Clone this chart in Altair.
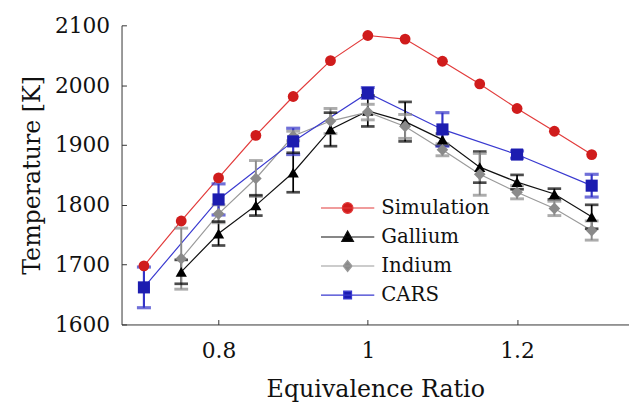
import altair as alt
import pandas as pd

# ---- data ----
phi_sim = [0.70, 0.75, 0.80, 0.85, 0.90, 0.95, 1.00, 1.05, 1.10, 1.15, 1.20, 1.25, 1.30]
t_sim = [1698, 1773, 1845, 1916, 1981, 2041, 2083, 2077, 2040, 2002, 1961, 1923, 1884]

phi_ga = [0.75, 0.80, 0.85, 0.90, 0.95, 1.00, 1.05, 1.10, 1.15, 1.20, 1.25, 1.30]
t_ga = [1688, 1752, 1799, 1854, 1926, 1957, 1939, 1909, 1863, 1838, 1818, 1780]
e_ga = [20, 20, 17, 33, 28, 26, 33, 10, 26, 12, 9, 20]

phi_in = [0.75, 0.80, 0.85, 0.90, 0.95, 1.00, 1.05, 1.10, 1.15, 1.20, 1.25, 1.30]
t_in = [1710, 1785, 1844, 1915, 1940, 1955, 1931, 1892, 1851, 1821, 1794, 1757]
e_in = [51, 15, 30, 8, 21, 13, 20, 10, 35, 11, 12, 16]

phi_cars = [0.70, 0.80, 0.90, 1.00, 1.10, 1.20, 1.30]
t_cars = [1662, 1809, 1906, 1987, 1926, 1884, 1832]
e_cars = [34, 26, 22, 9, 28, 6, 19]

x_ticks = [0.8, 1.0, 1.2]
y_ticks = [1600, 1700, 1800, 1900, 2000, 2100]

series = ["Simulation", "Gallium", "Indium", "CARS"]
line_colors = ["#e23b3b", "#111111", "#9a9a9a", "#3a3ad0"]
marker_colors = ["#d01c1c", "#000000", "#8a8a8a", "#1c1cb0"]
err_colors = ["#d01c1c", "#000000", "#8a8a8a", "#3434c8"]
err_widths = [1.5, 2.2, 2.2, 1.2]
shapes = ["circle", "triangle-up", "diamond", "square"]
shape_sizes = [120, 150, 110, 68]
legend_paths = [
    "M-3,0H3M0.6,0A0.6,0.6,0,1,1,-0.6,0A0.6,0.6,0,1,1,0.6,0Z",
    "M-3,0H3M0,-0.68L0.66,0.5L-0.66,0.5Z",
    "M-3,0H3M0,-0.62L0.5,0L0,0.62L-0.5,0Z",
    "M-3,0H3M-0.44,-0.44H0.44V0.44H-0.44Z",
]

rows = []
for name, xs, ys, es in [
    ("Simulation", phi_sim, t_sim, [None] * len(phi_sim)),
    ("Gallium", phi_ga, t_ga, e_ga),
    ("Indium", phi_in, t_in, e_in),
    ("CARS", phi_cars, t_cars, e_cars),
]:
    for x, y, e in zip(xs, ys, es):
        rows.append({
            "series": name, "phi": x, "T": y,
            "lo": None if e is None else y - e,
            "hi": None if e is None else y + e,
        })
df = pd.DataFrame(rows)
df_err = df.dropna(subset=["lo"])

FONT = "DejaVu Serif"
W, H = 514, 303

x_scale = alt.Scale(domain=[0.67, 1.35], nice=False, zero=False)
y_scale = alt.Scale(domain=[1600, 2100], nice=False, zero=False)

x_enc = alt.X("phi:Q", scale=x_scale,
              axis=alt.Axis(values=x_ticks, format="~g", title="Equivalence Ratio"))
y_enc = alt.Y("T:Q", scale=y_scale,
              axis=alt.Axis(values=y_ticks, format="d", title="Temperature [K]"))

base = alt.Chart(df)

lines = base.mark_line(strokeWidth=1.2).encode(
    x=x_enc, y=y_enc,
    color=alt.Color("series:N", scale=alt.Scale(domain=series, range=line_colors), legend=None),
    detail="series:N",
)

err_scale_stroke = alt.Scale(domain=series, range=err_colors)
err_scale_w = alt.Scale(domain=series, range=err_widths)

err_rules = alt.Chart(df_err).mark_rule().encode(
    x="phi:Q", y="lo:Q", y2="hi:Q",
    stroke=alt.Stroke("series:N", scale=err_scale_stroke, legend=None),
    strokeWidth=alt.StrokeWidth("series:N", scale=err_scale_w, legend=None),
)
err_lo = alt.Chart(df_err).mark_tick(width=12, orient="horizontal").encode(
    x="phi:Q", y="lo:Q",
    stroke=alt.Stroke("series:N", scale=err_scale_stroke, legend=None),
    strokeWidth=alt.StrokeWidth("series:N", scale=err_scale_w, legend=None),
)
err_hi = alt.Chart(df_err).mark_tick(width=12, orient="horizontal").encode(
    x="phi:Q", y="hi:Q",
    stroke=alt.Stroke("series:N", scale=err_scale_stroke, legend=None),
    strokeWidth=alt.StrokeWidth("series:N", scale=err_scale_w, legend=None),
)

points = base.mark_point(filled=True, opacity=1, strokeWidth=0).encode(
    x="phi:Q", y="T:Q",
    fill=alt.Fill("series:N", scale=alt.Scale(domain=series, range=marker_colors), legend=None),
    shape=alt.Shape("series:N", scale=alt.Scale(domain=series, range=shapes), legend=None),
    size=alt.Size("series:N", scale=alt.Scale(domain=series, range=shape_sizes), legend=None),
)

legend_layer = base.mark_point(filled=True, opacity=0).encode(
    x="phi:Q", y="T:Q",
    shape=alt.Shape("series:N", scale=alt.Scale(domain=series, range=legend_paths),
                    legend=alt.Legend(title=None, orient="none", legendX=219, legendY=175,
                                      symbolSize=324, symbolOpacity=1, symbolStrokeWidth=1.2,
                                      labelFont=FONT, labelFontSize=20, labelColor="#111111",
                                      labelOffset=24, rowPadding=9.4, padding=0)),
    fill=alt.Fill("series:N", scale=alt.Scale(domain=series, range=marker_colors)),
    stroke=alt.Stroke("series:N", scale=alt.Scale(domain=series, range=line_colors)),
)

inner = alt.layer(lines, err_rules, err_lo, err_hi, points, legend_layer).resolve_scale(
    shape="independent", fill="independent", stroke="independent", size="independent",
    strokeWidth="independent",
)

# inward-pointing ticks: a second pair of axes laid over the plot's own axes
tick_layer = base.mark_point(opacity=0).encode(
    x=alt.X("phi:Q", scale=x_scale,
            axis=alt.Axis(orient="top", offset=-H, values=x_ticks, labels=False, domain=False,
                          ticks=True, tickSize=5, tickColor="#333333", tickWidth=1, title=None)),
    y=alt.Y("T:Q", scale=y_scale,
            axis=alt.Axis(orient="right", offset=-W, values=y_ticks, labels=False, domain=False,
                          ticks=True, tickSize=5, tickColor="#333333", tickWidth=1, title=None)),
)

chart = alt.layer(inner, tick_layer).resolve_axis(x="independent", y="independent").properties(
    width=W, height=H,
    padding={"left": 13, "top": 4, "right": 0, "bottom": 0},
).configure_view(stroke=None).configure_axis(
    grid=False, domainColor="#333333", domainWidth=1, ticks=False,
    labelFont=FONT, labelFontSize=22, labelColor="#111111", labelPadding=12,
    titleFont=FONT, titleFontSize=24, titleFontWeight="normal", titleColor="#111111",
).configure_axisY(titlePadding=10).configure_axisX(titlePadding=17, labelPadding=16)

chart.save("out.html", embed_options={"renderer": "svg", "actions": False})
